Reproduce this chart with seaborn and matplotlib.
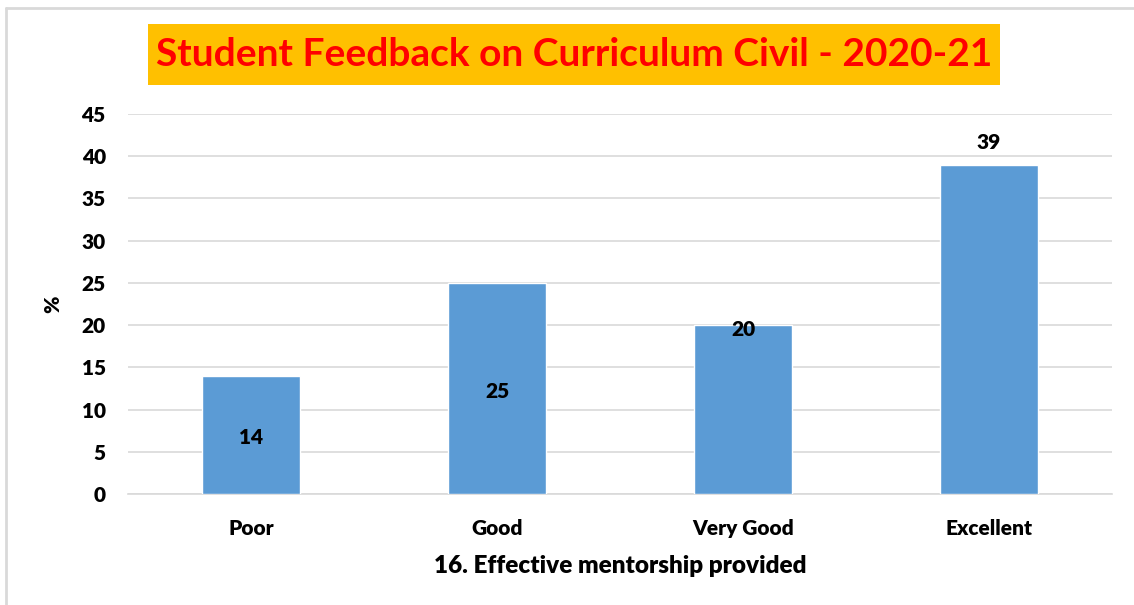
import matplotlib
matplotlib.use("Agg")
import matplotlib.pyplot as plt
import matplotlib.patches as mpatches
import seaborn as sns
import pandas as pd

# Data
categories = ["Poor", "Good", "Very Good", "Excellent"]
percentages = [14, 25, 20, 39]
label_modes = ["center", "center", "inside_end", "outside_end"]
y_ticks = [0, 5, 10, 15, 20, 25, 30, 35, 40, 45]

title = "Student Feedback on Curriculum Civil - 2020-21"
x_title = "16. Effective mentorship provided"
y_title = "%"

BAR = "#5B9BD5"
GRID = "#D9D9D9"
INK = "#000000"
FONT = "Lato"
WEIGHT = "heavy"

sns.set_style("white")
plt.rcParams["font.family"] = [FONT, "DejaVu Sans"]
plt.rcParams["text.color"] = INK
plt.rcParams["axes.labelcolor"] = INK
plt.rcParams["xtick.labelcolor"] = INK
plt.rcParams["ytick.labelcolor"] = INK

df = pd.DataFrame({"category": categories, "value": percentages})

fig = plt.figure(figsize=(11.34, 6.05), dpi=100)
W, H = 1134, 605
ax = fig.add_axes([128 / W, (H - 494) / H, (1112 - 128) / W, (494 - 114) / H])

sns.barplot(data=df, x="category", y="value", color=BAR, width=0.4,
            saturation=1, ax=ax, zorder=3)

ax.set_xlim(-0.5, len(categories) - 0.5)
ax.set_ylim(0, 45)
ax.set_yticks(y_ticks)
ax.set_yticklabels([str(t) for t in y_ticks], fontsize=15, fontweight=WEIGHT, color=INK)
ax.tick_params(axis="y", length=0, pad=16)
ax.set_xticks(range(len(categories)))
ax.set_xticklabels(categories, fontsize=15, fontweight=WEIGHT, color=INK)
ax.tick_params(axis="x", which="major", length=0, pad=18)
ax.set_xticks([i - 0.5 for i in range(len(categories) + 1)], minor=True)
ax.tick_params(axis="x", which="minor", length=8, color=GRID, width=1.2)

ax.grid(axis="y", color=GRID, linewidth=1.2, zorder=0)
ax.set_axisbelow(True)
for side in ["top", "right", "left"]:
    ax.spines[side].set_visible(False)
ax.spines["bottom"].set_color(GRID)
ax.spines["bottom"].set_linewidth(1.2)

ax.set_xlabel(x_title, fontsize=17.5, fontweight=WEIGHT, labelpad=12, color=INK)
ax.set_ylabel(y_title, fontsize=15, fontweight=WEIGHT, labelpad=14, color=INK)

# Value labels, placed per bar
for i, (v, mode) in enumerate(zip(percentages, label_modes)):
    if mode == "center":
        ax.annotate(str(v), (i, v / 2), xytext=(0, -2), textcoords="offset points",
                    ha="center", va="center", fontsize=15, fontweight=WEIGHT,
                    color=INK, zorder=5)
    elif mode == "inside_end":
        ax.annotate(str(v), (i, v), xytext=(0, -3), textcoords="offset points",
                    ha="center", va="center", fontsize=15, fontweight=WEIGHT,
                    color=INK, zorder=5)
    else:
        ax.annotate(str(v), (i, v), xytext=(0, 9), textcoords="offset points",
                    ha="center", va="bottom", fontsize=15, fontweight=WEIGHT,
                    color=INK, zorder=5)

# Title banner
fig.patches.append(mpatches.Rectangle((148 / W, (H - 85) / H), (1000 - 148) / W, 61 / H,
                                      transform=fig.transFigure, facecolor="#FFC000",
                                      edgecolor="none", zorder=1))
fig.text(574 / W, (H - 55) / H, title, ha="center", va="center", color="#FF0000",
         fontsize=28, fontweight="bold", zorder=2)

# Chart frame
fig.add_artist(plt.Line2D([6 / W, 6 / W], [0, (H - 8) / H], transform=fig.transFigure,
                          color=GRID, linewidth=2))
fig.add_artist(plt.Line2D([6 / W, 1], [(H - 8) / H, (H - 8) / H], transform=fig.transFigure,
                          color=GRID, linewidth=2))

fig.savefig("out.png", dpi=100)
